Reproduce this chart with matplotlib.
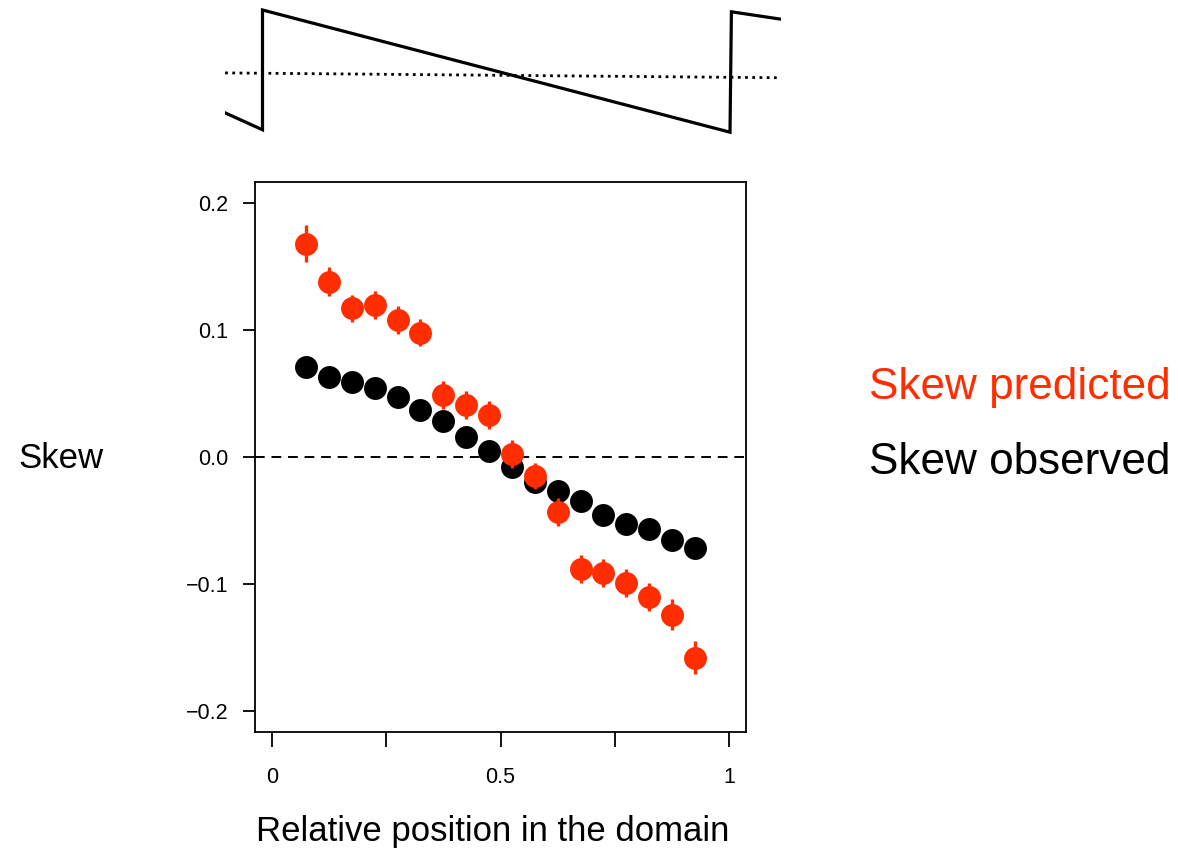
import numpy as np
import matplotlib
matplotlib.use("Agg")
import matplotlib.pyplot as plt

plt.rcParams["font.family"] = ["Liberation Sans", "DejaVu Sans"]

# ---- data ----
position = [0.075, 0.125, 0.175, 0.225, 0.275, 0.325, 0.375, 0.425, 0.475,
            0.525, 0.575, 0.625, 0.675, 0.725, 0.775, 0.825, 0.875, 0.925]

skew_observed = [0.071, 0.063, 0.059, 0.054, 0.047, 0.037, 0.028, 0.016, 0.005,
                 -0.008, -0.020, -0.027, -0.035, -0.046, -0.053, -0.057, -0.065, -0.072]

skew_predicted = [0.168, 0.138, 0.117, 0.120, 0.108, 0.098, 0.049, 0.041, 0.033,
                  0.002, -0.015, -0.043, -0.088, -0.091, -0.099, -0.110, -0.124, -0.158]

predicted_err = [0.0145, 0.0115, 0.0105, 0.011, 0.011, 0.011, 0.011, 0.011, 0.011,
                 0.011, 0.010, 0.011, 0.011, 0.011, 0.011, 0.011, 0.012, 0.013]

# sawtooth sketch above the panel (position in domain, relative amplitude)
saw_pos = [-0.080, 0.0, 0.0, 1.0, 1.003, 1.107]
saw_val = [-0.70, -0.98, 1.0, -1.02, 0.97, 0.85]
mean_pos = [-0.080, 1.107]
mean_val = [-0.04, -0.12]

y_ticks = [-0.2, -0.1, 0.0, 0.1, 0.2]
y_labels = ["\u22120.2", "\u22120.1", "0.0", "0.1", "0.2"]
x_ticks = [0, 0.25, 0.5, 0.75, 1]
x_labels = ["0", "", "0.5", "", "1"]

RED = "#FF2D00"

W, H = 1178, 850
fig = plt.figure(figsize=(W / 100, H / 100), dpi=100)

# ---- main panel ----
ax = fig.add_axes([255 / W, 1 - 732 / H, (746 - 255) / W, (732 - 182) / H])

ax.axhline(0, color="black", lw=1.4, linestyle=(0, (5, 3.5)), zorder=1)

ax.plot(position, skew_observed, "o", color="black",
        markersize=16.5, markeredgewidth=0, zorder=2)

ax.errorbar(position, skew_predicted, yerr=predicted_err, fmt="o",
            color=RED, ecolor=RED, elinewidth=2.4, capsize=0,
            markersize=16.5, markeredgewidth=0, zorder=3)

ax.set_xlim(-0.037, 1.037)
ax.set_ylim(-0.2165, 0.2165)

ax.set_yticks(y_ticks)
ax.set_yticklabels(y_labels)
ax.set_xticks(x_ticks)
ax.set_xticklabels(x_labels)

ax.tick_params(axis="y", direction="out", length=9, width=1.3,
               labelsize=15.5, pad=10)
ax.tick_params(axis="x", direction="out", length=11, width=1.3,
               labelsize=15.5, pad=14)

for spine in ax.spines.values():
    spine.set_linewidth(1.3)

# ---- sawtooth sketch ----
ax_top = fig.add_axes([224.5 / W, 1 - 140 / H, (780.5 - 224.5) / W, 140 / H])

ax_top.plot(saw_pos, saw_val, color="black", lw=2.3,
            solid_joinstyle="miter")
ax_top.plot(mean_pos, mean_val, color="black", lw=2.0,
            linestyle=(0, (1, 1.6)))

ax_top.set_xlim((224.5 - 262.5) / 467.5, (780.5 - 262.5) / 467.5)
ax_top.set_ylim(-1.149, 1.165)
ax_top.axis("off")

# ---- labels ----
fig.text(18 / W, 1 - 458 / H, "Skew", fontsize=25,
         ha="left", va="center")

fig.text(493 / W, 1 - 832 / H, "Relative position in the domain",
         fontsize=25, ha="center", va="center")

fig.text(869 / W, 1 - 387 / H, "Skew predicted", fontsize=31.8,
         color=RED, ha="left", va="center")

fig.text(869 / W, 1 - 463 / H, "Skew observed", fontsize=31.8,
         color="black", ha="left", va="center")

fig.savefig("out.png", dpi=100)
